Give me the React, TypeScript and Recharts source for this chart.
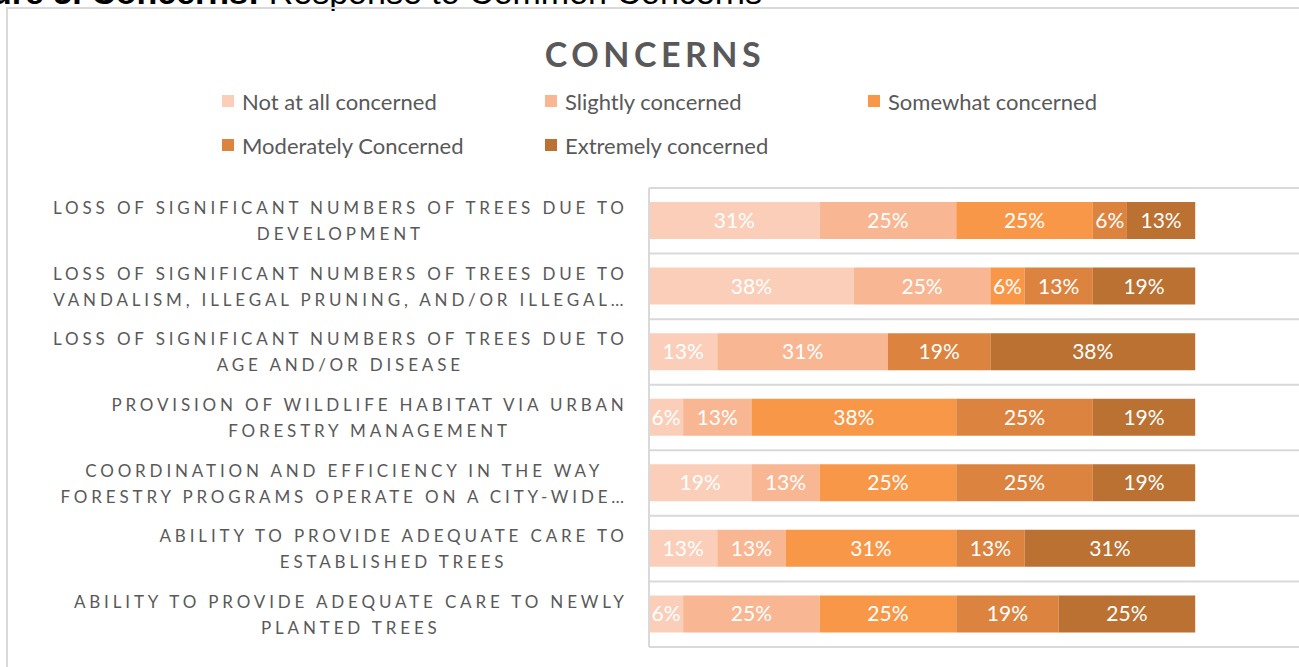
import React from "react";
import { BarChart, Bar, XAxis, YAxis, CartesianGrid, Legend, LabelList } from "recharts";

const categories = [
  "LOSS OF SIGNIFICANT NUMBERS OF TREES DUE TO\nDEVELOPMENT",
  "LOSS OF SIGNIFICANT NUMBERS OF TREES DUE TO\nVANDALISM, ILLEGAL PRUNING, AND/OR ILLEGAL…",
  "LOSS OF SIGNIFICANT NUMBERS OF TREES DUE TO\nAGE AND/OR DISEASE",
  "PROVISION OF WILDLIFE HABITAT VIA URBAN\nFORESTRY MANAGEMENT",
  "COORDINATION AND EFFICIENCY IN THE WAY\nFORESTRY PROGRAMS OPERATE ON A CITY-WIDE…",
  "ABILITY TO PROVIDE ADEQUATE CARE TO\nESTABLISHED TREES",
  "ABILITY TO PROVIDE ADEQUATE CARE TO NEWLY\nPLANTED TREES",
];

const notAtAll = [31.25, 37.5, 12.5, 6.25, 18.75, 12.5, 6.25];
const slightly = [25, 25, 31.25, 12.5, 12.5, 12.5, 25];
const somewhat = [25, 6.25, 0, 37.5, 25, 31.25, 25];
const moderately = [6.25, 12.5, 18.75, 25, 25, 12.5, 18.75];
const extremely = [12.5, 18.75, 37.5, 18.75, 18.75, 31.25, 25];

const seriesNames = [
  "Not at all concerned",
  "Slightly concerned",
  "Somewhat concerned",
  "Moderately Concerned",
  "Extremely concerned",
];
const seriesKeys = ["notAtAll", "slightly", "somewhat", "moderately", "extremely"];
const seriesColors = ["#FBCEB9", "#F8B692", "#F79747", "#DC843F", "#BB7132"];

const data = categories.map((c, i) => ({
  category: c,
  notAtAll: notAtAll[i],
  slightly: slightly[i],
  somewhat: somewhat[i],
  moderately: moderately[i],
  extremely: extremely[i],
}));

const TEXT = "#595959";
const GRID = "#D9D9D9";
const TICK_FONT = 17;
const TICK_SPACING = 3.85;

let measureCtx: CanvasRenderingContext2D | null = null;
function measure(s: string): number {
  if (!measureCtx) {
    const c = document.createElement("canvas");
    measureCtx = c.getContext("2d");
  }
  if (!measureCtx) return s.length * 10;
  measureCtx.font = `${TICK_FONT}px Lato`;
  return measureCtx.measureText(s).width + TICK_SPACING * (s.length - 1);
}

const CategoryTick = (props: any) => {
  const { x, y, payload } = props;
  const lines: string[] = String(payload.value).split("\n");
  const right = x - 16;
  const maxW = Math.max(...lines.map(measure));
  const cx = right - maxW / 2;
  const lh = 26;
  const startY = y - ((lines.length - 1) * lh) / 2;
  return (
    <g>
      {lines.map((l, i) => (
        <text
          key={i}
          x={cx + TICK_SPACING / 2}
          y={startY + i * lh}
          textAnchor="middle"
          dominantBaseline="central"
          fill={TEXT}
          fontSize={TICK_FONT}
          fontFamily="Lato"
          letterSpacing={TICK_SPACING}
        >
          {l}
        </text>
      ))}
    </g>
  );
};

const renderLegend = () => {
  const colW = 323;
  return (
    <div style={{ position: "relative", width: 1299, height: 70 }}>
      {seriesNames.map((n, i) => {
        const col = i % 3;
        const row = Math.floor(i / 3);
        return (
          <div
            key={n}
            style={{
              position: "absolute",
              left: 222 + col * colW,
              top: row * 44,
              display: "flex",
              alignItems: "center",
              height: 24,
              whiteSpace: "nowrap",
            }}
          >
            <span
              style={{
                display: "inline-block",
                width: 12,
                height: 12,
                background: seriesColors[i],
                marginRight: 8,
              }}
            />
            <span style={{ fontFamily: "Lato", fontSize: 22, color: TEXT }}>{n}</span>
          </div>
        );
      })}
    </div>
  );
};

const fmt = (v: any) => (v ? `${Math.round(Number(v))}%` : "");

export default function App() {
  return (
    <div style={{ position: "absolute", left: 0, top: 0, width: 1299, height: 667, overflow: "hidden", background: "#fff" }}>
      <div
        style={{
          position: "absolute",
          left: -60,
          top: -25,
          fontFamily: "Liberation Sans, Arial, sans-serif",
          fontSize: 34,
          lineHeight: "34px",
          color: "#000",
          whiteSpace: "nowrap",
        }}
      >
        <b>Figure 5. Concerns:</b> Response to Common Concerns
      </div>
      <div
        style={{
          position: "absolute",
          left: 6,
          top: 7,
          width: 1320,
          height: 700,
          borderLeft: `2px solid ${GRID}`,
          borderTop: `2px solid ${GRID}`,
        }}
      />
      <div
        style={{
          position: "absolute",
          left: 0,
          width: 1310,
          top: 33,
          textAlign: "center",
          fontFamily: "Lato",
          fontWeight: 700,
          fontSize: 34,
          letterSpacing: 4.5,
          color: TEXT,
        }}
      >
        CONCERNS
      </div>
      <div style={{ position: "absolute", left: 0, top: 0 }}>
        <BarChart
          width={1299}
          height={667}
          layout="vertical"
          data={data}
          margin={{ top: 188, right: 0, bottom: 20, left: 0 }}
          barSize={37}
        >
          <CartesianGrid
            vertical={false}
            stroke={GRID}
            strokeWidth={2}
            horizontalCoordinatesGenerator={({ offset }: any) =>
              categories.map((_, i) => offset.top + (i * offset.height) / categories.length).concat([offset.top + offset.height])
            }
          />
          <XAxis type="number" domain={[0, 119]} hide />
          <YAxis
            type="category"
            dataKey="category"
            width={649}
            interval={0}
            tickLine={false}
            axisLine={{ stroke: GRID, strokeWidth: 2 }}
            tick={<CategoryTick />}
          />
          <Legend
            layout="horizontal"
            align="center"
            verticalAlign="middle"
            content={renderLegend}
            wrapperStyle={{ position: "absolute", left: 0, top: 89, width: 1299 }}
          />
          {seriesKeys.map((k, i) => (
            <Bar key={k} dataKey={k} name={seriesNames[i]} stackId="a" fill={seriesColors[i]} isAnimationActive={false}>
              <LabelList
                dataKey={k}
                position="center"
                formatter={fmt}
                fill="#FFFFFF"
                fontSize={21}
                fontFamily="Lato"
              />
            </Bar>
          ))}
        </BarChart>
      </div>
    </div>
  );
}
